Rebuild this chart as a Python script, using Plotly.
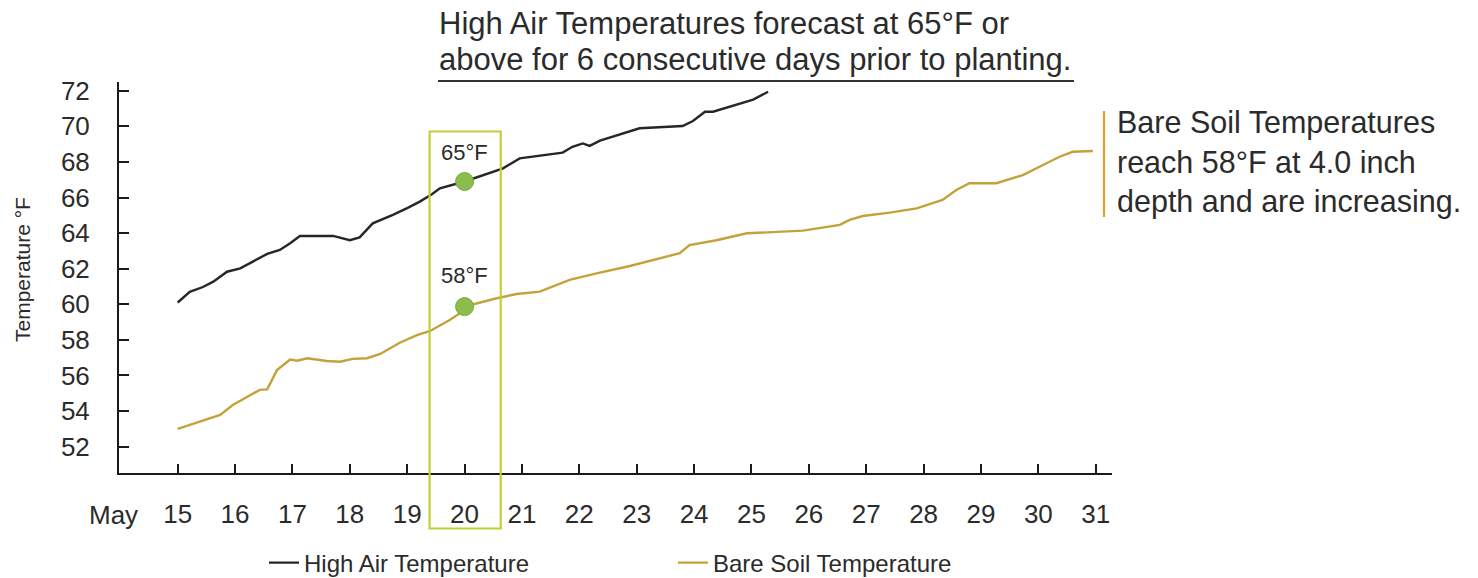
import plotly.graph_objects as go

# ---- data ----
air_days = [15.0, 15.21, 15.44, 15.62, 15.86, 16.09, 16.31, 16.56, 16.78, 16.96, 17.13,
            17.71, 18.0, 18.17, 18.40, 18.58, 18.75, 19.0, 19.22, 19.43, 19.57, 20.0,
            20.67, 20.96, 21.71, 21.88, 22.06, 22.18, 22.36, 23.05, 23.80, 23.98, 24.19,
            24.33, 25.03, 25.29]
air_temp = [60.1, 60.7, 60.97, 61.27, 61.83, 62.02, 62.4, 62.83, 63.05, 63.43, 63.84,
            63.84, 63.6, 63.76, 64.55, 64.78, 65.02, 65.4, 65.77, 66.18, 66.52, 66.9,
            67.64, 68.2, 68.52, 68.85, 69.04, 68.9, 69.19, 69.89, 70.02, 70.3, 70.82,
            70.82, 71.5, 71.94]

soil_days = [15.0, 15.39, 15.74, 15.96, 16.21, 16.43, 16.56, 16.73, 16.96, 17.08, 17.26,
             17.60, 17.83, 18.05, 18.30, 18.53, 18.87, 19.17, 19.40, 19.74, 19.92, 20.0,
             20.56, 20.91, 21.31, 21.83, 22.30, 22.88, 23.75, 23.92, 24.39, 24.92, 25.27,
             25.90, 26.54, 26.71, 26.94, 27.41, 27.88, 28.33, 28.57, 28.80, 29.27, 29.73,
             30.02, 30.37, 30.60, 30.95]
soil_temp = [53.0, 53.4, 53.78, 54.34, 54.81, 55.19, 55.22, 56.3, 56.9, 56.83, 56.97,
             56.81, 56.77, 56.93, 56.97, 57.21, 57.84, 58.27, 58.5, 59.12, 59.5, 59.87,
             60.34, 60.58, 60.71, 61.37, 61.74, 62.15, 62.87, 63.33, 63.6, 63.99, 64.04,
             64.14, 64.46, 64.74, 64.96, 65.15, 65.39, 65.86, 66.42, 66.8, 66.8, 67.26,
             67.73, 68.29, 68.57, 68.61]

day_ticks = list(range(15, 32))
temp_ticks = list(range(52, 73, 2))
planting_day = 20.0
air_label = "65°F"
soil_label = "58°F"

title_line1 = "High Air Temperatures forecast at 65°F or"
title_line2 = "above for 6 consecutive days prior to planting."
soil_note = "Bare Soil Temperatures<br>reach 58°F at 4.0 inch<br>depth and are increasing."

# ---- styling ----
FONT = "Liberation Sans, Arial, sans-serif"
TXT = "#2b2b2b"
AIR_COLOR = "#262626"
SOIL_COLOR = "#c4a23a"
DOT_COLOR = "#8cbd4c"
BOX_COLOR = "#c2cf33"
BAR_COLOR = "#e0a32a"

W, H = 1478, 578
L, R, T, B = 119, 366, 82, 105
PW = W - L - R
PH = H - T - B


def px(xpix):
    return (xpix - L) / PW


def py(ypix):
    return (H - B - ypix) / PH


air_at_plant = air_temp[air_days.index(planting_day)]
soil_at_plant = soil_temp[soil_days.index(planting_day)]

fig = go.Figure()
fig.add_trace(go.Scatter(x=air_days, y=air_temp, mode="lines", name="High Air Temperature",
                         line=dict(color=AIR_COLOR, width=2.4), legend="legend"))
fig.add_trace(go.Scatter(x=soil_days, y=soil_temp, mode="lines", name="Bare Soil Temperature",
                         line=dict(color=SOIL_COLOR, width=2.4), legend="legend2"))
fig.add_trace(go.Scatter(x=[planting_day, planting_day], y=[air_at_plant, soil_at_plant],
                         mode="markers", showlegend=False,
                         marker=dict(size=18, color=DOT_COLOR,
                                     line=dict(color="#7aa83e", width=1))))

fig.update_xaxes(range=[13.977, 31.284], tickvals=day_ticks, ticktext=[str(d) for d in day_ticks],
                 showline=True, linecolor="#1a1a1a", linewidth=2, ticks="inside", ticklen=9,
                 tickwidth=1.5, tickcolor="#1a1a1a", showgrid=False, zeroline=False,
                 tickfont=dict(family=FONT, size=26, color=TXT), ticklabelstandoff=17)
fig.update_yaxes(range=[50.52, 72.49], tickvals=temp_ticks,
                 showline=True, linecolor="#1a1a1a", linewidth=2, ticks="inside", ticklen=10,
                 tickwidth=1.5, tickcolor="#1a1a1a", showgrid=False, zeroline=False,
                 tickfont=dict(family=FONT, size=26, color=TXT), ticklabelstandoff=22)

shapes = [
    # highlight box around planting day
    dict(type="rect", xref="x", yref="paper", x0=19.39, x1=20.63, y0=py(528.5), y1=py(131.5),
         line=dict(color=BOX_COLOR, width=2.2), fillcolor="rgba(0,0,0,0)"),
    # underline of the title
    dict(type="line", xref="paper", yref="paper", x0=px(438), x1=px(1074), y0=py(81), y1=py(81),
         line=dict(color="#333333", width=2)),
    # bar next to soil note
    dict(type="line", xref="paper", yref="paper", x0=px(1104), x1=px(1104), y0=py(111), y1=py(217),
         line=dict(color=BAR_COLOR, width=2.2)),
]
fig.update_layout(shapes=shapes)

ann = [
    dict(text=title_line1, xref="paper", yref="paper", x=px(437), y=py(24), xanchor="left",
         yanchor="middle", showarrow=False, font=dict(family=FONT, size=31, color=TXT)),
    dict(text=title_line2, xref="paper", yref="paper", x=px(437), y=py(60), xanchor="left",
         yanchor="middle", showarrow=False, font=dict(family=FONT, size=31, color=TXT)),
    dict(text=soil_note, xref="paper", yref="paper", x=px(1115), y=py(162), xanchor="left",
         yanchor="middle", align="left", showarrow=False,
         font=dict(family=FONT, size=30.5, color=TXT)),
    dict(text=air_label, x=planting_day, y=air_at_plant, xref="x", yref="y", yshift=29,
         showarrow=False, font=dict(family=FONT, size=22, color=TXT)),
    dict(text=soil_label, x=planting_day, y=soil_at_plant, xref="x", yref="y", yshift=31,
         showarrow=False, font=dict(family=FONT, size=22, color=TXT)),
    dict(text="May", xref="paper", yref="paper", x=px(113), y=py(515), xanchor="center",
         yanchor="middle", showarrow=False, font=dict(family=FONT, size=26, color=TXT)),
    dict(text="Temperature °F", xref="paper", yref="paper", x=px(22), y=py(270), textangle=-90,
         xanchor="center", yanchor="middle", showarrow=False,
         font=dict(family=FONT, size=21, color=TXT)),
]
fig.update_layout(annotations=ann)

legend_font = dict(family=FONT, size=24, color=TXT)
fig.update_layout(
    width=W, height=H,
    margin=dict(l=L, r=R, t=T, b=B, autoexpand=False),
    paper_bgcolor="white", plot_bgcolor="white",
    legend=dict(x=px(264), y=py(563), xanchor="left", yanchor="middle", orientation="h",
                font=legend_font, bgcolor="rgba(0,0,0,0)", borderwidth=0),
    legend2=dict(x=px(673), y=py(563), xanchor="left", yanchor="middle", orientation="h",
                 font=legend_font, bgcolor="rgba(0,0,0,0)", borderwidth=0),
)

# remove the browser's default page margin so the figure sits at the window's corner
fig.write_html("out.html", config={"displayModeBar": False},
               post_script="document.body.style.margin='0';")
